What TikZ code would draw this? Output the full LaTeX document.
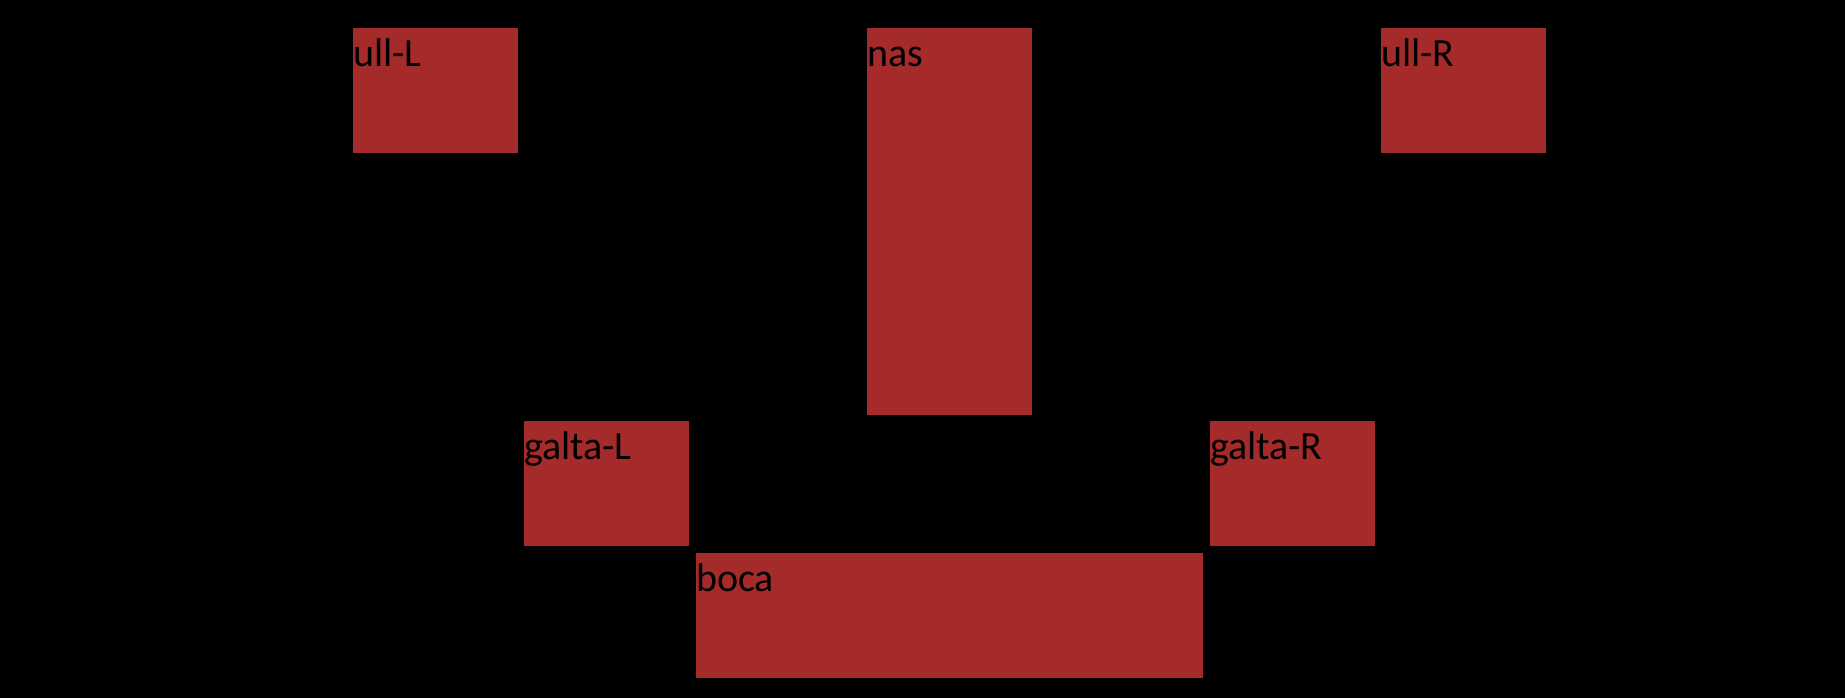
\documentclass[tikz,border=0pt]{standalone}
\usepackage{fontspec}
\setmainfont{Carlito}
\definecolor{facebrown}{HTML}{A52A2A}
\begin{document}
\begin{tikzpicture}[x=1pt,y=-1pt,
  part/.style={fill=facebrown,draw=none,inner sep=0pt,outer sep=0pt,anchor=north west},
  lbl/.style={anchor=base west,inner sep=0pt,outer sep=0pt,text=black,font=\fontsize{40}{48}\selectfont}]
\fill[black] (0,0) rectangle (1845,698);
\useasboundingbox (0,0) rectangle (1845,698);
\node[part,minimum width=165pt,minimum height=125pt] (ullL) at (353,28) {};
\node[part,minimum width=165pt,minimum height=387pt] (nas) at (867,28) {};
\node[part,minimum width=165pt,minimum height=125pt] (ullR) at (1381,28) {};
\node[part,minimum width=165pt,minimum height=125pt] (galtaL) at (524,421) {};
\node[part,minimum width=165pt,minimum height=125pt] (galtaR) at (1210,421) {};
\node[part,minimum width=507pt,minimum height=125pt] (boca) at (696,553) {};
\path (ullL.north west) ++(0,39) node[lbl] (tullL) {ull-L};
\path (nas.north west) ++(0,39) node[lbl] (tnas) {nas};
\path (ullR.north west) ++(0,39) node[lbl] (tullR) {ull-R};
\path (galtaL.north west) ++(0,38) node[lbl] (tgaltaL) {galta-L};
\path (galtaR.north west) ++(0,38) node[lbl] (tgaltaR) {galta-R};
\path (boca.north west) ++(0,38) node[lbl] (tboca) {boca};
\end{tikzpicture}
\end{document}
